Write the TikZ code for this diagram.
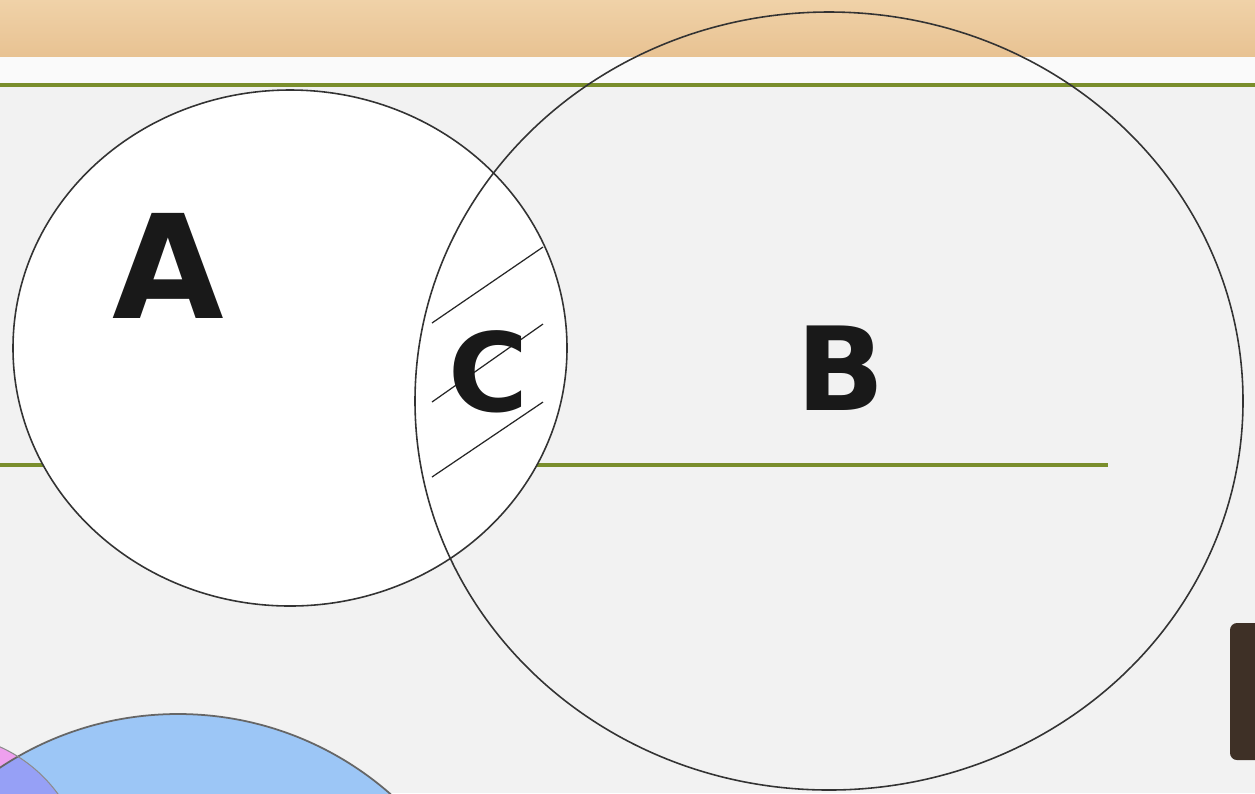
\documentclass[tikz,border=0pt]{standalone}
\usepackage{fontspec}
\newfontfamily\letterfont{DejaVu Sans}
\definecolor{wood}{RGB}{232,194,146}
\definecolor{woodlight}{RGB}{240,210,168}
\definecolor{paper}{RGB}{242,242,242}
\definecolor{olive}{RGB}{122,142,44}
\definecolor{skyblue}{RGB}{156,198,246}
\definecolor{pinkish}{RGB}{238,160,238}
\definecolor{violetish}{RGB}{150,160,246}
\definecolor{darkwood}{RGB}{62,48,38}
\begin{document}
\begin{tikzpicture}[x=0.01cm, y=-0.01cm,
    setline/.style={draw=black!80, line width=0.45pt},
    rule/.style={draw=olive, line width=0.9pt},
    hatch/.style={draw=black!85, line width=0.35pt},
    letter/.style={font=\letterfont\bfseries, text=black!90, inner sep=0pt}]
    \useasboundingbox (0,0) rectangle (1255,793);
    % --- background ---
    \fill[paper] (0,0) rectangle (1255,793);
    \shade[top color=woodlight, bottom color=wood] (0,0) rectangle (1255,57);
    \fill[white!60!paper] (0,57) rectangle (1255,84);
    \draw[rule] (0,85) -- (1255,85);
    \draw[rule] (0,465) -- (1108,465);

    % --- bottom left circles ---
    \begin{scope}
        \clip (0,0) rectangle (1255,793);
        \fill[skyblue] (178,1036) circle (322);
        \begin{scope}
            \clip (178,1036) circle (322);
            \fill[violetish] (-60,880) circle (146);
        \end{scope}
        \begin{scope}[even odd rule]
            \clip (-60,880) circle (146) (178,1036) circle (322);
            \fill[pinkish] (-60,880) circle (146);
        \end{scope}
        \draw[draw=black!60, line width=0.5pt] (178,1036) circle (322);
        \draw[draw=black!45, line width=0.3pt] (-60,880) circle (146);
    \end{scope}

    % --- right edge tab ---
    \fill[darkwood, rounded corners=2pt] (1230,623) rectangle (1262,760);

    % --- A ---
    \fill[white] (290,348) ellipse [x radius=277, y radius=258];
    \draw[setline] (290,348) ellipse [x radius=277, y radius=258];
    \node[letter, font=\letterfont\bfseries\fontsize{41}{41}\selectfont] (labA) at (168,266) {A};

    % --- B ---
    \draw[setline] (829,401) ellipse [x radius=414, y radius=389];
    \node[letter, font=\letterfont\bfseries\fontsize{33}{33}\selectfont] (labB) at (841,368) {B};

    % --- C (hatched lens) ---
    \draw[hatch] (432,323) -- (543,247);
    \draw[hatch] (432,402) -- (543,324);
    \draw[hatch] (432,477) -- (543,402);
    \node[letter, font=\letterfont\bfseries\fontsize{31}{31}\selectfont] (labC) at (488,372) {C};
\end{tikzpicture}
\end{document}
